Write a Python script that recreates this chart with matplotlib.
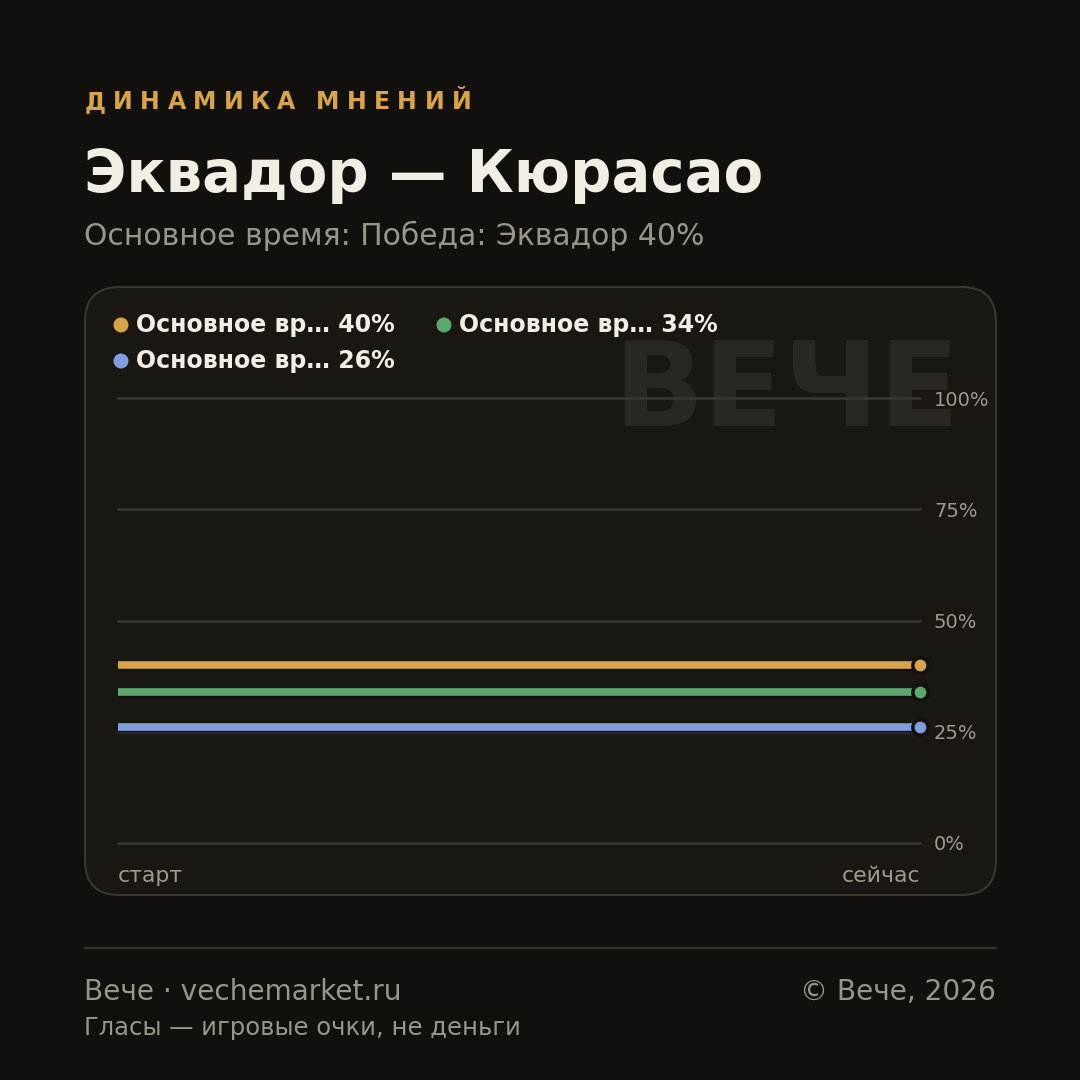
import matplotlib
matplotlib.use("Agg")
import matplotlib.pyplot as plt
from matplotlib.patches import FancyBboxPatch
import matplotlib.patheffects as pe

# data
series_names = ["Основное вр… 40%", "Основное вр… 34%", "Основное вр… 26%"]
series_colors = ["#d9a443", "#5aa86c", "#7b9fe0"]
x_points = [0, 1]
series_values = [[40, 40], [34, 34], [26, 26]]
y_ticks = [0, 25, 50, 75, 100]
x_labels = ["старт", "сейчас"]

BG = "#12100d"
CARD = "#1a1712"
EDGE = "#3a3630"
CREAM = "#f2eee3"
GRAY = "#9a958a"

plt.rcParams["font.family"] = ["DejaVu Sans"]

fig = plt.figure(figsize=(10.8, 10.8), dpi=100)
fig.patch.set_facecolor(BG)


def px(x, y):
    return x / 1080, 1 - y / 1080


# card
card = FancyBboxPatch(
    px(85, 895), 911 / 1080, 608 / 1080,
    boxstyle="round,pad=0,rounding_size=0.032",
    transform=fig.transFigure,
    facecolor=CARD,
    edgecolor=EDGE,
    linewidth=1.5,
    zorder=-2
)
fig.patches.append(card)

# kicker with letter spacing
renderer = fig.canvas.get_renderer()
x = 85
for ch in "ДИНАМИКА МНЕНИЙ":
    t = fig.text(*px(x, 109), ch, fontsize=17, fontweight="bold",
                 color="#d9a443", va="baseline", ha="left")
    w = t.get_window_extent(renderer).width
    if ch == " ":
        w = 6
    x += w + 7.3

fig.text(*px(84, 192), "Эквадор — Кюрасао", fontsize=41.6, fontweight="bold",
         color=CREAM, va="baseline")
fig.text(*px(84, 245), "Основное время: Победа: Эквадор 40%", fontsize=21.5,
         color=GRAY, va="baseline")

# watermark
fig.text(*px(960, 426), "ВЕЧЕ", fontsize=85, fontweight="bold",
         color="#2a2722", ha="right", va="baseline", zorder=-1)

# plot
l, r = 118 / 1080, 920 / 1080
b, t = 1 - 843 / 1080, 1 - 398 / 1080
ax = fig.add_axes([l, b, r - l, t - b])
ax.set_facecolor("none")
ax.set_xlim(0, 1)
ax.set_ylim(0, 100)
for s in ax.spines.values():
    s.set_visible(False)
ax.set_xticks([])
ax.set_yticks(y_ticks)
ax.set_yticklabels([f"{v}%" for v in y_ticks])
ax.yaxis.tick_right()
ax.tick_params(axis="y", length=0, pad=10, labelsize=14, labelcolor="#a09a8e")
for v in y_ticks:
    ax.axhline(v, color=EDGE, linewidth=1.8, zorder=1, clip_on=False)

for vals, col in zip(series_values, series_colors):
    ax.plot(x_points, vals, color=col, linewidth=5.5, solid_capstyle="butt",
            zorder=3,
            path_effects=[pe.SimpleLineShadow(offset=(0, -1.5), shadow_color="#000000", alpha=0.5),
                          pe.Normal()])
    ax.plot(x_points[-1], vals[-1], "o", markersize=11, color=col,
            markeredgecolor=BG, markeredgewidth=2.5, clip_on=False, zorder=4)

ax.text(0, -0.075, x_labels[0], transform=ax.transAxes, fontsize=15.8,
        color="#a09a8e", ha="left", va="center")
ax.text(1, -0.075, x_labels[1], transform=ax.transAxes, fontsize=15.8,
        color="#a09a8e", ha="right", va="center")

# legend
legend_pos = [(121, 325), (444, 325), (121, 361)]
for name, col, (lx, ly) in zip(series_names, series_colors, legend_pos):
    fig.patches.append(plt.Circle(px(lx, ly), 7.5 / 1080, transform=fig.transFigure,
                                  facecolor=col, edgecolor="none", zorder=5))
    fig.text(*px(lx + 15, ly), name, fontsize=17, fontweight="bold",
             color=CREAM, va="center", ha="left")

# footer
fig.add_artist(plt.Line2D([85 / 1080, 996 / 1080], [1 - 948 / 1080] * 2,
                          color="#35312b", linewidth=1.5, transform=fig.transFigure))
fig.text(*px(84, 1000), "Вече · vechemarket.ru", fontsize=20.2, color=GRAY, va="baseline")
fig.text(*px(996, 1000), "© Вече, 2026", fontsize=20.2, color=GRAY, va="baseline", ha="right")
fig.text(*px(84, 1035), "Гласы — игровые очки, не деньги", fontsize=17.5, color=GRAY,
         va="baseline")

fig.savefig("out.png", dpi=100, facecolor=BG)
